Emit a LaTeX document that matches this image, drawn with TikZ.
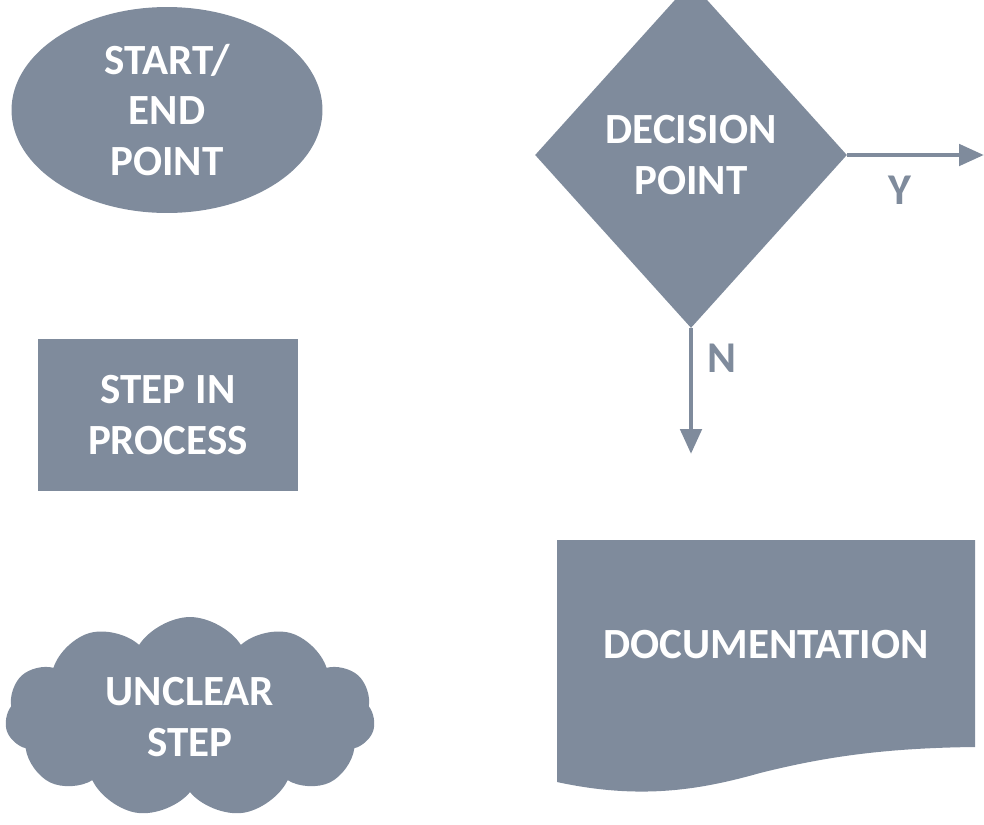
\documentclass[tikz,border=0pt]{standalone}
\usepackage{fontspec}
\setmainfont{Carlito}
\usepackage{tikz}
\usetikzlibrary{shapes.geometric,shapes.symbols,arrows.meta}
\definecolor{slate}{RGB}{127,139,156}
\tikzset{
  shp/.style={fill=slate, draw=none, text=white, align=center, inner sep=0pt,
    font=\bfseries\fontsize{24.5}{28.5}\selectfont},
  lbl/.style={text=slate, inner sep=0pt, font=\bfseries\fontsize{25}{28}\selectfont},
  flow/.style={draw=slate, line width=2.8pt, -{Triangle[length=0.5cm,width=0.42cm]}},
}

\begin{document}
\begin{tikzpicture}[x=0.02cm,y=-0.02cm]
        \useasboundingbox (0,0) rectangle (984,825);
        \coordinate (yend) at (984,155);
        \coordinate (nend) at (691,454);
        \node[shp, ellipse, minimum width=6.22cm, minimum height=4.12cm] (term) at (167,110) {START/\\END\\POINT};
        \node[shp, rectangle, minimum width=5.2cm, minimum height=3.04cm] (step) at (168,415) {STEP IN\\PROCESS};
        \node[shp, diamond, shape aspect=0.9, minimum width=6.24cm, minimum height=6.92cm] (dec) at (691,155) {DECISION\\POINT};
        \node[shp, cloud, cloud puffs=11, cloud puff arc=115, aspect=1.8, minimum width=7.4cm, minimum height=4cm] (unclear) at (190,717) {UNCLEAR\\STEP};
        % document shape with wavy bottom
        \fill[slate] (557,540) -- (975,540) -- (975,747)
            .. controls (880,748) and (820,758) .. (760,773)
            .. controls (700,790) and (640,800) .. (557,782) -- cycle;
        \node[shp, fill=none] (doc) at (766,645) {DOCUMENTATION};
        \draw[flow] (dec.east) -- (yend);
        \draw[flow] (dec.south) -- (nend);
        \node[lbl] (ylbl) at (900,190) {Y};
        \node[lbl] (nlbl) at (722,358) {N};
\end{tikzpicture}
\end{document}
